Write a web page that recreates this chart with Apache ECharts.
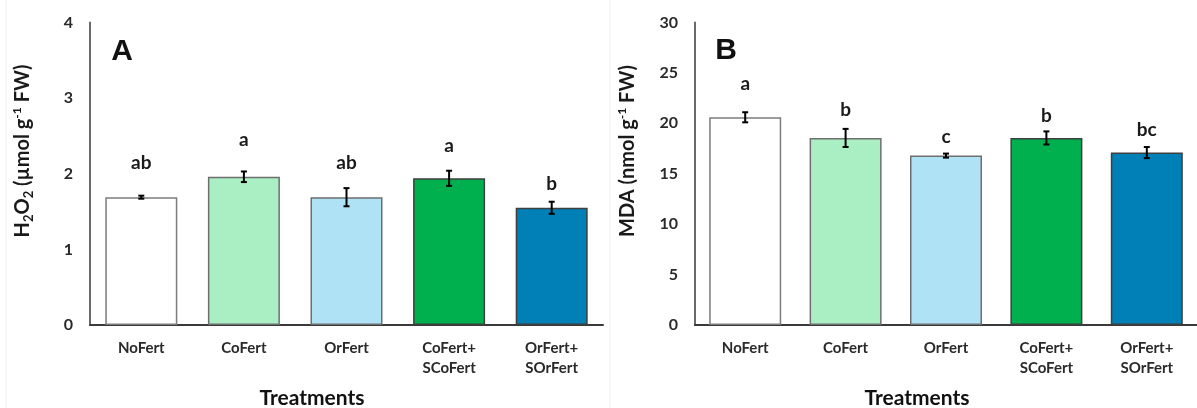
<!DOCTYPE html>
<html>
<head>
<meta charset="utf-8">
<script src="https://cdn.jsdelivr.net/npm/echarts@6/dist/echarts.min.js"></script>
<style>
  html, body { margin: 0; padding: 0; background: #ffffff; }
  #chart { width: 1197px; height: 408px; }
</style>
</head>
<body>
<div id="chart"></div>
<script>
// Treatments shared by both panels
const treatments = ['NoFert', 'CoFert', 'OrFert', 'CoFert+\nSCoFert', 'OrFert+\nSOrFert'];

// Panel A: hydrogen peroxide content
const h2o2Mean = [1.69, 1.96, 1.69, 1.94, 1.55];
const h2o2Err = [0.02, 0.07, 0.12, 0.10, 0.08];
const h2o2Letters = ['ab', 'a', 'ab', 'a', 'b'];
const h2o2Ticks = [0, 1, 2, 3, 4];

// Panel B: malondialdehyde content
const mdaMean = [20.6, 18.55, 16.8, 18.55, 17.1];
const mdaErr = [0.5, 0.9, 0.2, 0.65, 0.55];
const mdaLetters = ['a', 'b', 'c', 'b', 'bc'];
const mdaTicks = [0, 5, 10, 15, 20, 25, 30];

// ---- styling ----
const FONT = 'Lato, "Open Sans", sans-serif';
const fills = ['#ffffff', '#a9efc3', '#b0e2f5', '#00b04f', '#0080b6'];
const edges = ['#7c7c7c', '#6e6e6e', '#6e6e6e', '#3f3f3f', '#3f3f3f'];
// vertical lift (px) of each significance letter above its error bar
const liftA = [33, 32, 25, 25, 18];
const liftB = [28, 19, 17, 16, 17];

function barData(means) {
  return means.map((v, i) => ({
    value: v,
    itemStyle: { color: fills[i], borderColor: edges[i], borderWidth: 1.5 }
  }));
}

function errData(means, errs) {
  return means.map((v, i) => [i, v + errs[i], v - errs[i]]);
}

function errRenderer(letters, lifts) {
  return function (params, api) {
    const i = api.value(0);
    const top = api.coord([i, api.value(1)]);
    const bot = api.coord([i, api.value(2)]);
    const hw = 3;
    const ln = { stroke: '#000', lineWidth: 2 };
    return {
      type: 'group',
      children: [
        { type: 'line', shape: { x1: top[0], y1: top[1], x2: bot[0], y2: bot[1] }, style: ln },
        { type: 'line', shape: { x1: top[0] - hw, y1: top[1], x2: top[0] + hw, y2: top[1] }, style: ln },
        { type: 'line', shape: { x1: bot[0] - hw, y1: bot[1], x2: bot[0] + hw, y2: bot[1] }, style: ln },
        {
          type: 'text',
          x: top[0],
          y: top[1] - lifts[i],
          style: {
            text: letters[i],
            font: 'bold 19px ' + FONT,
            fill: '#1a1a1a',
            align: 'center',
            verticalAlign: 'middle'
          }
        }
      ]
    };
  };
}

function yAxisFor(ticks, gridIndex) {
  return {
    type: 'value',
    gridIndex,
    min: ticks[0],
    max: ticks[ticks.length - 1],
    interval: ticks[1] - ticks[0],
    axisLine: { show: true, lineStyle: { color: '#6a6a6a', width: 2 } },
    axisTick: { show: false },
    splitLine: { show: false },
    axisLabel: { margin: 17, fontFamily: FONT, fontWeight: 'bold', fontSize: 16, color: '#2a2a2a' }
  };
}

function xAxisFor(gridIndex) {
  return {
    type: 'category',
    gridIndex,
    data: treatments,
    axisLine: { show: true, lineStyle: { color: '#3a3a3a', width: 2 } },
    axisTick: { show: false },
    axisLabel: {
      interval: 0, margin: 13, lineHeight: 20,
      fontFamily: FONT, fontWeight: 'bold', fontSize: 15, color: '#2a2a2a'
    }
  };
}

const richTitle = {
  n: { fontFamily: FONT, fontWeight: 'bold', fontSize: 20, lineHeight: 24, fill: '#1a1a1a' },
  s: { fontFamily: FONT, fontWeight: 'bold', fontSize: 13, lineHeight: 13, verticalAlign: 'bottom', fill: '#1a1a1a' },
  p: { fontFamily: FONT, fontWeight: 'bold', fontSize: 12, lineHeight: 12, verticalAlign: 'top', fill: '#1a1a1a' }
};

function yTitle(x, y, text) {
  return {
    type: 'text', x, y, rotation: Math.PI / 2,
    style: { text, rich: richTitle, align: 'center', verticalAlign: 'middle', font: 'bold 20px ' + FONT, fill: '#1a1a1a' }
  };
}

function plainText(x, y, text, font) {
  return { type: 'text', x, y, style: { text, font, fill: '#111', align: 'center', verticalAlign: 'middle' } };
}

const chart = echarts.init(document.getElementById('chart'), null, { renderer: 'canvas' });

chart.setOption({
  animation: false,
  backgroundColor: '#ffffff',
  grid: [
    { left: 90, right: 594, top: 22.5, bottom: 83 },
    { left: 695, right: -11, top: 22.5, bottom: 83 }
  ],
  xAxis: [xAxisFor(0), xAxisFor(1)],
  yAxis: [yAxisFor(h2o2Ticks, 0), yAxisFor(mdaTicks, 1)],
  series: [
    { type: 'bar', xAxisIndex: 0, yAxisIndex: 0, barWidth: 72, data: barData(h2o2Mean) },
    { type: 'bar', xAxisIndex: 1, yAxisIndex: 1, barWidth: 72, data: barData(mdaMean) },
    {
      type: 'custom', xAxisIndex: 0, yAxisIndex: 0, clip: false, z: 5,
      renderItem: errRenderer(h2o2Letters, liftA), data: errData(h2o2Mean, h2o2Err)
    },
    {
      type: 'custom', xAxisIndex: 1, yAxisIndex: 1, clip: false, z: 5,
      renderItem: errRenderer(mdaLetters, liftB), data: errData(mdaMean, mdaErr)
    }
  ],
  graphic: [
    { type: 'line', shape: { x1: 6, y1: 0, x2: 6, y2: 408 }, style: { stroke: '#f0f0f0', lineWidth: 1 } },
    { type: 'line', shape: { x1: 610, y1: 0, x2: 610, y2: 408 }, style: { stroke: '#f0f0f0', lineWidth: 1 } },
    plainText(122, 52, 'A', 'bold 30px Arial, "Liberation Sans", sans-serif'),
    plainText(726, 51, 'B', 'bold 30px Arial, "Liberation Sans", sans-serif'),
    yTitle(23, 151, '{n|H}{s|2}{n|O}{s|2}{n| (µmol g}{p|-1}{n| FW)}'),
    yTitle(628, 151, '{n|MDA (nmol g}{p|-1}{n| FW)}'),
    plainText(312, 398, 'Treatments', 'bold 21px ' + FONT),
    plainText(917, 398, 'Treatments', 'bold 21px ' + FONT)
  ]
});
</script>
</body>
</html>
